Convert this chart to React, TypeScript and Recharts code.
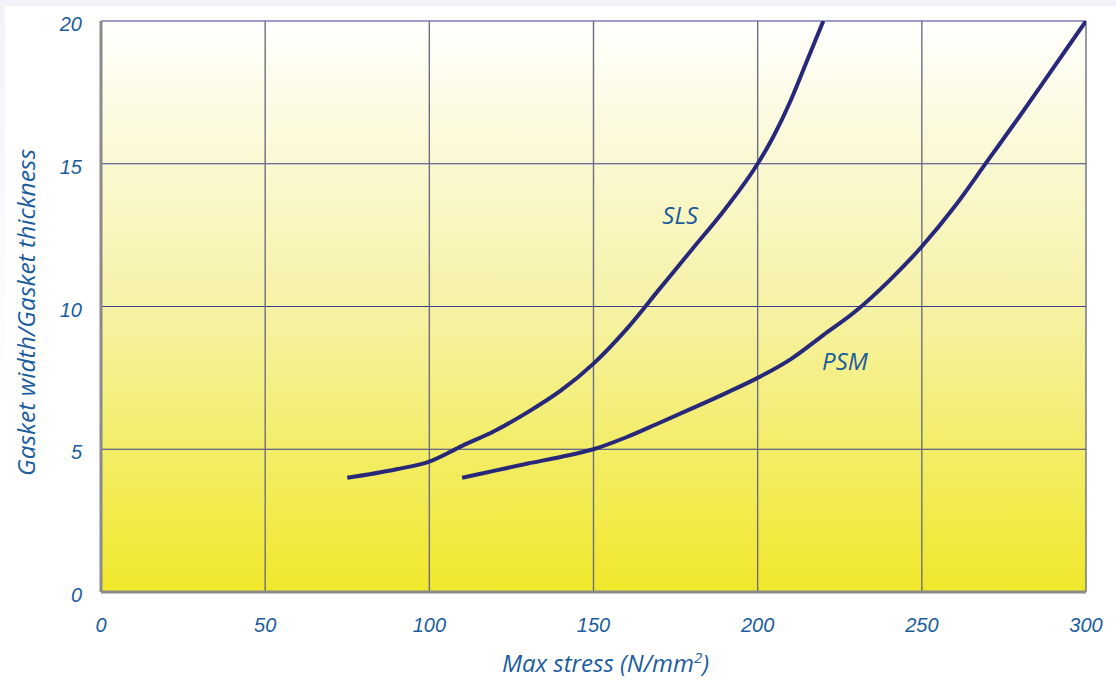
import React from "react";
import {
  ComposedChart,
  Line,
  XAxis,
  YAxis,
  CartesianGrid,
  ReferenceDot,
  Label,
} from "recharts";

// Data
const slsStress = [75, 90, 100, 110, 120, 130, 140, 150, 160, 170, 180, 190, 200, 205, 210, 215, 220];
const slsRatio = [4.0, 4.3, 4.57, 5.12, 5.65, 6.3, 7.05, 8.0, 9.2, 10.6, 12.0, 13.4, 15.0, 16.0, 17.2, 18.6, 20.0];

const psmStress = [110, 120, 130, 140, 150, 160, 170, 180, 190, 200, 210, 220, 230, 240, 250, 260, 270, 280, 290, 300];
const psmRatio = [4.0, 4.25, 4.5, 4.73, 5.0, 5.42, 5.92, 6.43, 6.95, 7.5, 8.15, 9.0, 9.85, 10.9, 12.1, 13.5, 15.1, 16.7, 18.35, 20.0];

const xTicks = [0, 50, 100, 150, 200, 250, 300];
const yTicks = [0, 5, 10, 15, 20];

const seriesLabels = [
  { name: "SLS", x: 176.4, y: 13.2 },
  { name: "PSM", x: 226.6, y: 8.06 },
];

const slsData = slsStress.map((x, i) => ({ x, y: slsRatio[i] }));
const psmData = psmStress.map((x, i) => ({ x, y: psmRatio[i] }));

const BLUE_TEXT = "#1b5c9e";
const LINE = "#28287a";
const TITLE_FONT = "'Open Sans', 'Noto Sans', sans-serif";
const TICK_FONT = "'Liberation Sans', Arial, sans-serif";

const XTitle = (props: any) => {
  const vb = props.viewBox || {};
  const cx = vb.x + vb.width / 2 + 12;
  return (
    <text
      x={cx}
      y={672}
      textAnchor="middle"
      fill={BLUE_TEXT}
      fontFamily={TITLE_FONT}
      fontStyle="italic"
      fontSize={24}
    >
      Max stress (N/mm
      <tspan dy={-9} fontSize={15}>2</tspan>
      <tspan dy={9}>)</tspan>
    </text>
  );
};

const YTitle = (props: any) => {
  const vb = props.viewBox || {};
  const cy = vb.y + vb.height / 2 + 6;
  return (
    <text
      x={0}
      y={0}
      transform={`translate(35, ${cy}) rotate(-90)`}
      textAnchor="middle"
      fill={BLUE_TEXT}
      fontFamily={TITLE_FONT}
      fontStyle="italic"
      fontSize={24.5}
    >
      Gasket width/Gasket thickness
    </text>
  );
};

export default function App() {
  return (
    <div style={{ position: "fixed", left: 0, top: 0, width: 1116, height: 680, background: "#ffffff", overflow: "hidden" }}>
      <div style={{ position: "absolute", left: 0, top: 0, width: 1116, height: 6, background: "#f1f3f8" }} />
      <div style={{ position: "absolute", left: 0, top: 0, width: 5, height: 420, background: "linear-gradient(#f1f3f8, #ffffff)" }} />
      <div style={{ position: "absolute", left: 0, top: 0 }}>
        <ComposedChart
          width={1116}
          height={680}
          margin={{ top: 21, right: 30, bottom: 28, left: 41 }}
        >
          <defs>
            <linearGradient id="bgGrad" x1="0" y1="0" x2="0" y2="1">
              <stop offset="0%" stopColor="#fffffe" />
              <stop offset="50%" stopColor="#f6f2a6" />
              <stop offset="100%" stopColor="#f0e82a" />
            </linearGradient>
          </defs>
          <CartesianGrid
            vertical={false}
            horizontal={true}
            stroke="#3c3c8c"
            strokeWidth={1.2}
            fill="url(#bgGrad)"
            fillOpacity={1}
          />
          <CartesianGrid vertical={true} horizontal={false} stroke="#6e6e80" strokeWidth={1.4} />
          <XAxis
            type="number"
            dataKey="x"
            domain={[0, 300]}
            ticks={xTicks}
            height={60}
            axisLine={{ stroke: "#8a8a8a", strokeWidth: 3 }}
            tickLine={false}
            tickSize={6}
            tickMargin={20}
            tick={{ fill: BLUE_TEXT, fontSize: 20, fontStyle: "italic", fontFamily: TICK_FONT }}
            allowDataOverflow
          >
            <Label content={<XTitle />} />
          </XAxis>
          <YAxis
            type="number"
            dataKey="y"
            domain={[0, 20]}
            ticks={yTicks}
            width={60}
            axisLine={{ stroke: "#8a8a8a", strokeWidth: 3 }}
            tickLine={false}
            tickSize={6}
            tickMargin={13}
            tick={{ fill: BLUE_TEXT, fontSize: 20, fontStyle: "italic", fontFamily: TICK_FONT, dy: 3 }}
            allowDataOverflow
          >
            <Label content={<YTitle />} />
          </YAxis>
          <Line
            data={slsData}
            dataKey="y"
            type="monotone"
            stroke={LINE}
            strokeWidth={4}
            dot={false}
            isAnimationActive={false}
          />
          <Line
            data={psmData}
            dataKey="y"
            type="monotone"
            stroke={LINE}
            strokeWidth={4}
            dot={false}
            isAnimationActive={false}
          />
          {seriesLabels.map((s) => (
            <ReferenceDot
              key={s.name}
              x={s.x}
              y={s.y}
              r={0}
              fill="none"
              stroke="none"
              label={{
                value: s.name,
                position: "center",
                fill: BLUE_TEXT,
                fontSize: 24,
                fontStyle: "italic",
                fontFamily: TITLE_FONT,
              }}
            />
          ))}
        </ComposedChart>
      </div>
    </div>
  );
}
